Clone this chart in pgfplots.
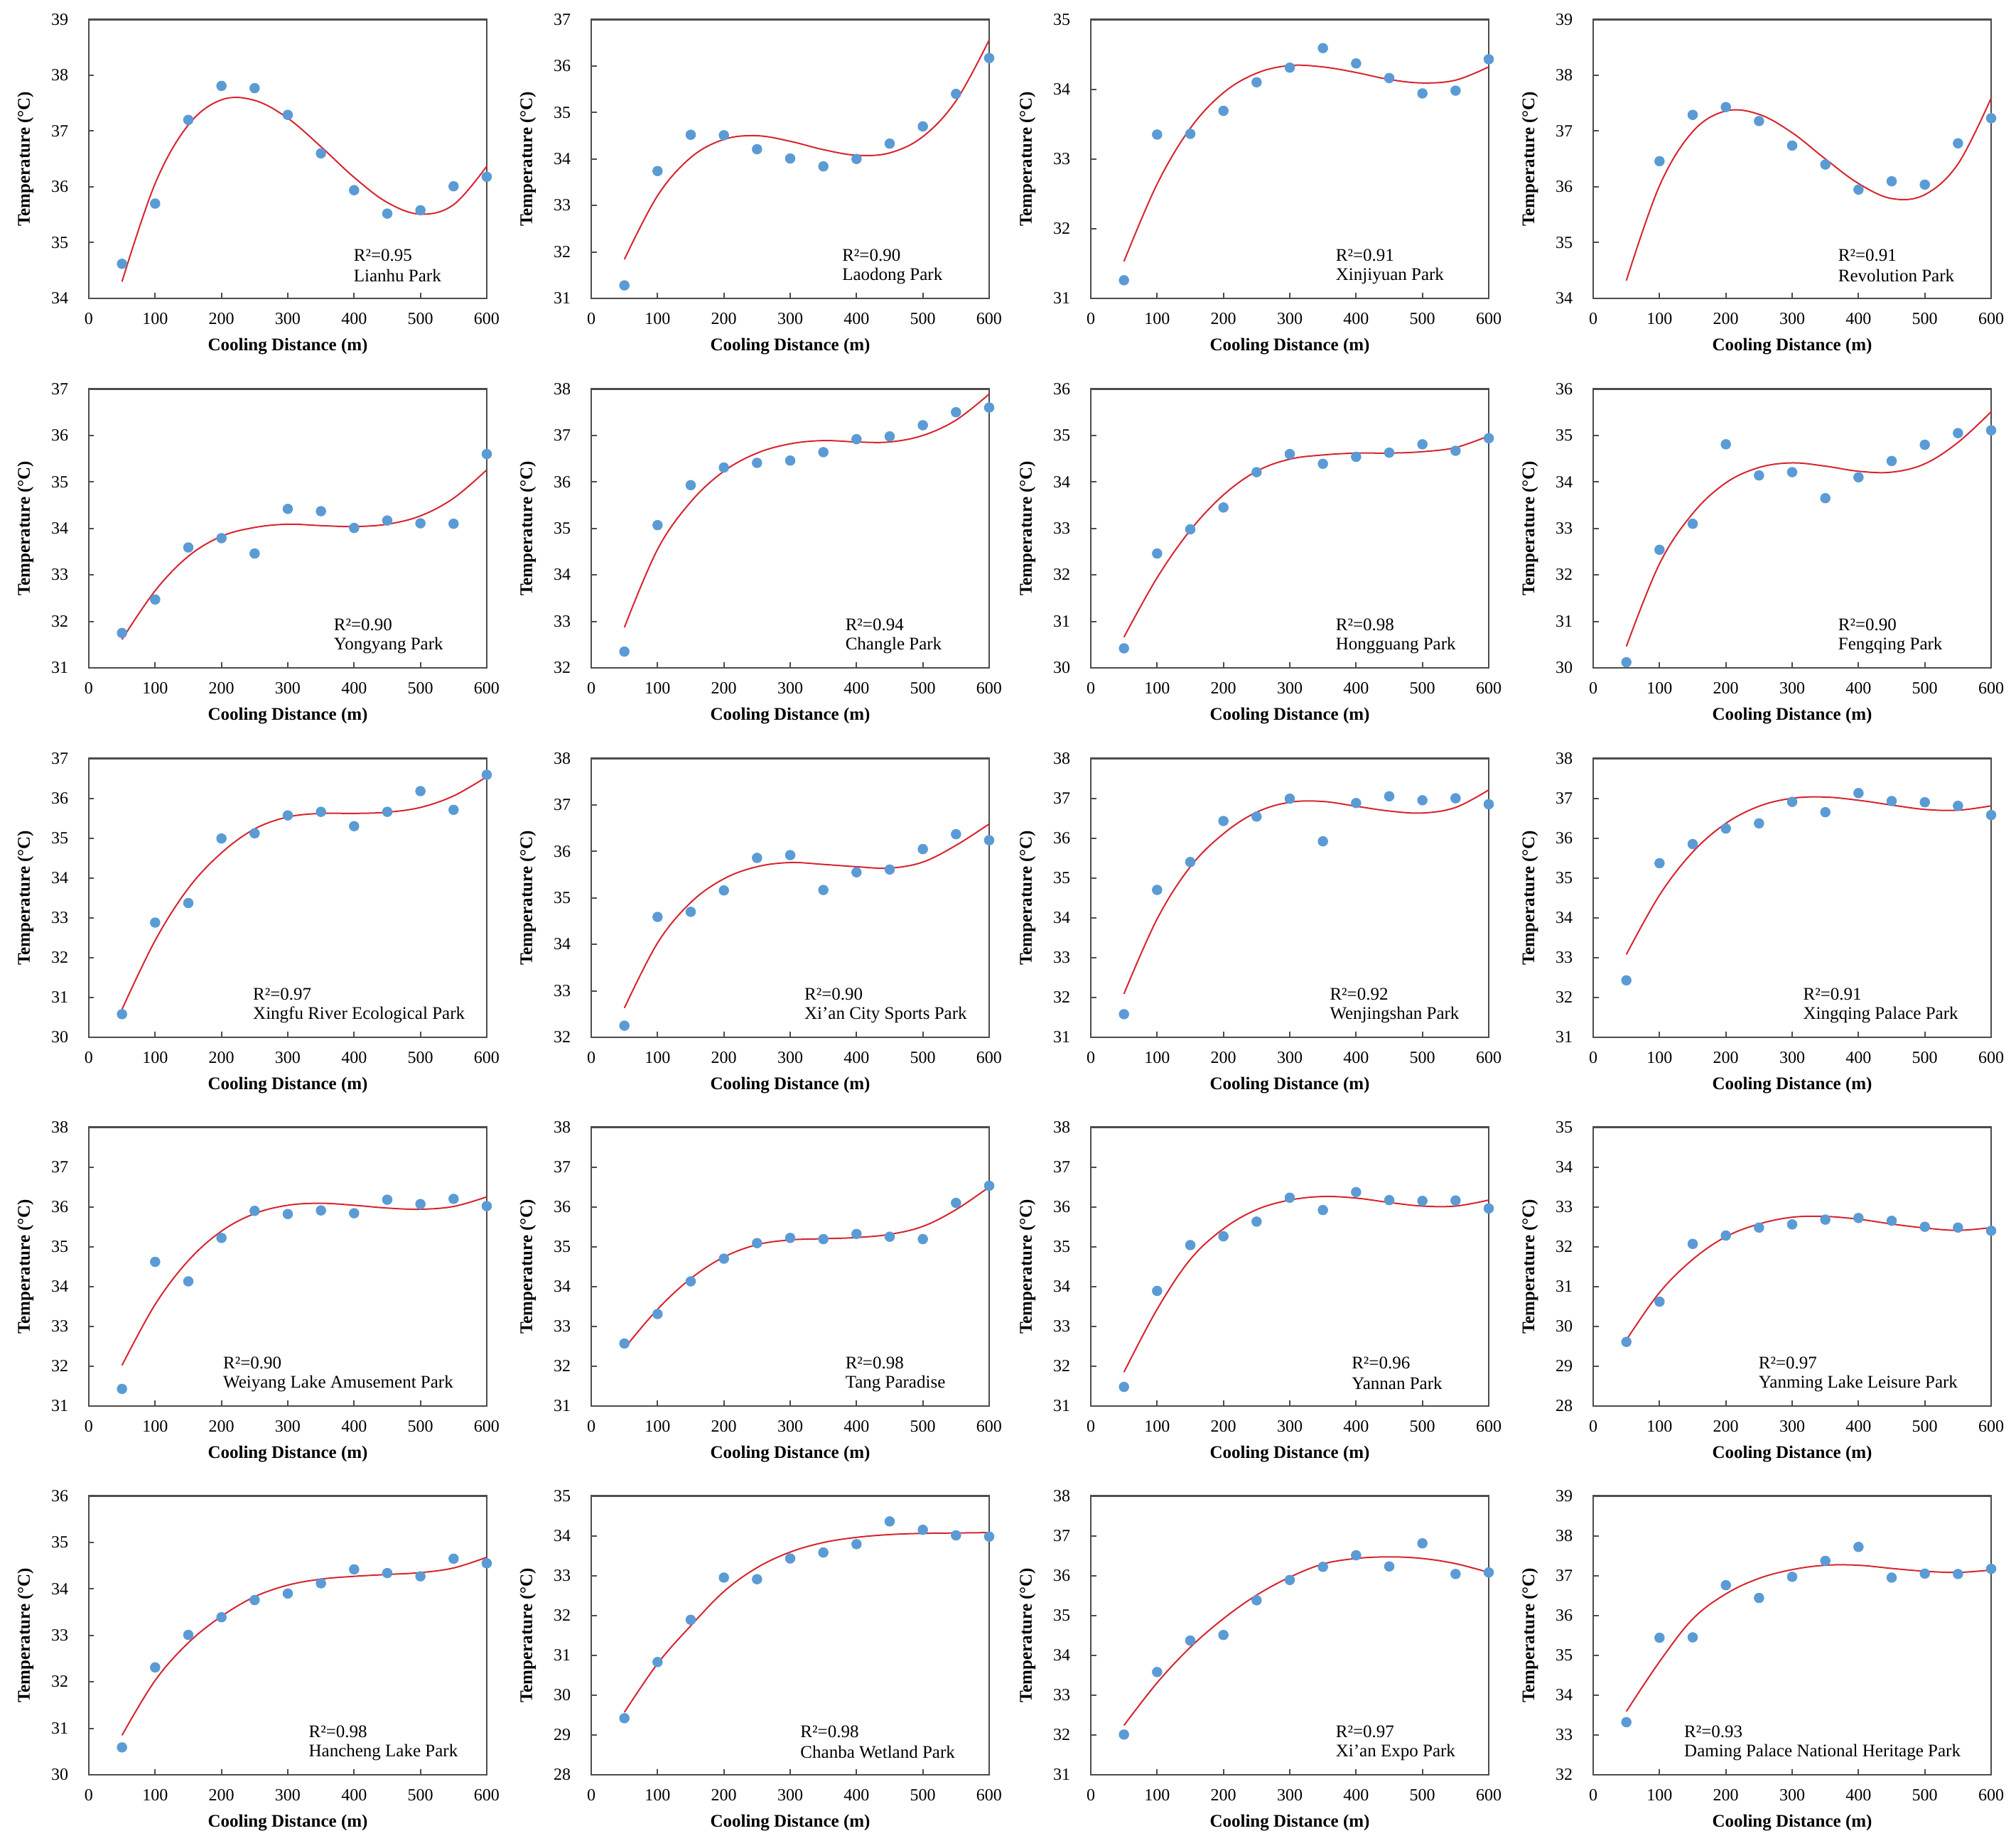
\documentclass[border=0pt]{standalone}
\usepackage{fontspec}
\setmainfont{Liberation Serif}
\usepackage{pgfplots}
\pgfplotsset{compat=1.18}
\definecolor{ptblue}{RGB}{91,155,213}
\definecolor{fitred}{RGB}{214,38,48}
\newcommand{\tickfont}{\fontsize{9.6pt}{11pt}\selectfont}
\newcommand{\labfont}{\fontsize{10pt}{12pt}\selectfont\bfseries}
\newcommand{\annfont}{\fontsize{10pt}{12pt}\selectfont}
\newcommand{\ann}[3]{%
  \node[anchor=west,inner sep=0pt,font=\annfont] at (axis description cs:#1,0.155) {#2};
  \node[anchor=west,inner sep=0pt,font=\annfont] at (axis description cs:#1,0.081) {#3};}
\pgfplotsset{
  panel/.style={
    scale only axis, width=224pt, height=157pt,
    anchor=south west,
    xmin=0, xmax=600, xtick={0,100,200,300,400,500,600},
    ytick distance=1,
    xtick pos=bottom, ytick pos=left,
    tick align=inside, major tick length=3pt,
    axis line style={draw=black!70, line width=0.9pt},
    tick style={black!70, line width=0.8pt},
    xticklabel style={font=\tickfont, yshift=-4.5pt},
    yticklabel style={font=\tickfont, xshift=-8pt},
    xlabel={Cooling Distance (m)}, ylabel={Temperature (°C)},
    xlabel style={font=\labfont, at={(axis description cs:0.5,-0.173)}, anchor=center},
    ylabel style={font=\labfont, at={(axis description cs:-0.159,0.5)}, anchor=center},
    /pgf/number format/assume math mode=true,
    clip=false,
  },
  pts/.style={only marks, mark=*, mark size=2.7pt, color=ptblue},
  fit/.style={smooth, tension=0.6, no marks, color=fitred, line width=0.8pt},
}
\begin{document}
\begin{tikzpicture}
\path[use as bounding box] (0,0) rectangle (1134.8pt,1037.6pt);
% ---------------- Row 1 ----------------
\begin{axis}[panel, at={(50pt,869.6pt)}, ymin=34, ymax=39]
\addplot[pts] coordinates {(50,34.62)(100,35.70)(150,37.20)(200,37.81)(250,37.77)(300,37.29)(350,36.60)(400,35.94)(450,35.52)(500,35.58)(550,36.01)(600,36.18)};
\addplot[fit] coordinates {(50,34.30)(100,36.06)(150,37.11)(200,37.56)(250,37.55)(300,37.23)(350,36.72)(400,36.17)(450,35.72)(500,35.51)(550,35.68)(600,36.37)};
\ann{0.665}{R²=0.95}{Lianhu Park}
\end{axis}
\begin{axis}[panel, at={(332.8pt,869.6pt)}, ymin=31, ymax=37]
\addplot[pts] coordinates {(50,31.28)(100,33.74)(150,34.52)(200,34.51)(250,34.21)(300,34.01)(350,33.84)(400,34.00)(450,34.33)(500,34.70)(550,35.40)(600,36.17)};
\addplot[fit] coordinates {(50,31.84)(100,33.21)(150,34.03)(200,34.42)(250,34.50)(300,34.38)(350,34.20)(400,34.08)(450,34.13)(500,34.48)(550,35.25)(600,36.56)};
\ann{0.63}{R²=0.90}{Laodong Park}
\end{axis}
\begin{axis}[panel, at={(614pt,869.6pt)}, ymin=31, ymax=35]
\addplot[pts] coordinates {(50,31.26)(100,33.35)(150,33.36)(200,33.69)(250,34.10)(300,34.31)(350,34.59)(400,34.37)(450,34.16)(500,33.94)(550,33.98)(600,34.43)};
\addplot[fit] coordinates {(50,31.53)(100,32.64)(150,33.44)(200,33.95)(250,34.23)(300,34.34)(350,34.32)(400,34.24)(450,34.14)(500,34.09)(550,34.13)(600,34.32)};
\ann{0.615}{R²=0.91}{Xinjiyuan Park}
\end{axis}
\begin{axis}[panel, at={(896.8pt,869.6pt)}, ymin=34, ymax=39]
\addplot[pts] coordinates {(100,36.46)(150,37.29)(200,37.43)(250,37.18)(300,36.74)(350,36.40)(400,35.95)(450,36.10)(500,36.04)(550,36.78)(600,37.23)};
\addplot[fit] coordinates {(50,34.32)(100,36.02)(150,36.99)(200,37.36)(250,37.30)(300,36.97)(350,36.50)(400,36.06)(450,35.79)(500,35.86)(550,36.41)(600,37.59)};
\ann{0.615}{R²=0.91}{Revolution Park}
\end{axis}
% ---------------- Row 2 ----------------
\begin{axis}[panel, at={(50pt,661.6pt)}, ymin=31, ymax=37]
\addplot[pts] coordinates {(50,31.75)(100,32.47)(150,33.59)(200,33.79)(250,33.46)(300,34.42)(350,34.37)(400,34.01)(450,34.17)(500,34.11)(550,34.10)(600,35.60)};
\addplot[fit] coordinates {(50,31.61)(100,32.66)(150,33.40)(200,33.83)(250,34.02)(300,34.09)(350,34.06)(400,34.04)(450,34.09)(500,34.27)(550,34.65)(600,35.26)};
\ann{0.615}{R²=0.90}{Yongyang Park}
\end{axis}
\begin{axis}[panel, at={(332.8pt,661.6pt)}, ymin=32, ymax=38]
\addplot[pts] coordinates {(50,32.35)(100,35.07)(150,35.93)(200,36.31)(250,36.41)(300,36.46)(350,36.64)(400,36.92)(450,36.98)(500,37.22)(550,37.50)(600,37.60)};
\addplot[fit] coordinates {(50,32.87)(100,34.55)(150,35.57)(200,36.23)(250,36.62)(300,36.82)(350,36.89)(400,36.86)(450,36.86)(500,37.00)(550,37.33)(600,37.89)};
\ann{0.638}{R²=0.94}{Changle Park}
\end{axis}
\begin{axis}[panel, at={(614pt,661.6pt)}, ymin=30, ymax=36]
\addplot[pts] coordinates {(50,30.42)(100,32.46)(150,32.98)(200,33.45)(250,34.21)(300,34.60)(350,34.39)(400,34.54)(450,34.63)(500,34.81)(550,34.67)(600,34.94)};
\addplot[fit] coordinates {(50,30.66)(100,31.94)(150,32.96)(200,33.72)(250,34.23)(300,34.49)(350,34.58)(400,34.62)(450,34.62)(500,34.65)(550,34.74)(600,34.99)};
\ann{0.615}{R²=0.98}{Hongguang Park}
\end{axis}
\begin{axis}[panel, at={(896.8pt,661.6pt)}, ymin=30, ymax=36]
\addplot[pts] coordinates {(50,30.12)(100,32.54)(150,33.10)(200,34.81)(250,34.14)(300,34.21)(350,33.65)(400,34.10)(450,34.45)(500,34.80)(550,35.05)(600,35.11)};
\addplot[fit] coordinates {(50,30.46)(100,32.24)(150,33.32)(200,33.98)(250,34.31)(300,34.41)(350,34.34)(400,34.23)(450,34.21)(500,34.39)(550,34.85)(600,35.51)};
\ann{0.615}{R²=0.90}{Fengqing Park}
\end{axis}
% ---------------- Row 3 ----------------
\begin{axis}[panel, at={(50pt,453.6pt)}, ymin=30, ymax=37]
\addplot[pts] coordinates {(50,30.58)(100,32.88)(150,33.37)(200,34.99)(250,35.12)(300,35.57)(350,35.66)(400,35.30)(450,35.66)(500,36.18)(550,35.71)(600,36.59)};
\addplot[fit] coordinates {(50,30.70)(100,32.43)(150,33.74)(200,34.63)(250,35.23)(300,35.53)(350,35.62)(400,35.62)(450,35.65)(500,35.77)(550,36.06)(600,36.54)};
\ann{0.412}{R²=0.97}{Xingfu River Ecological Park}
\end{axis}
\begin{axis}[panel, at={(332.8pt,453.6pt)}, ymin=32, ymax=38]
\addplot[pts] coordinates {(50,32.25)(100,34.59)(150,34.70)(200,35.16)(250,35.86)(300,35.92)(350,35.17)(400,35.55)(450,35.61)(500,36.05)(550,36.37)(600,36.24)};
\addplot[fit] coordinates {(50,32.63)(100,34.03)(150,34.90)(200,35.41)(250,35.67)(300,35.76)(350,35.72)(400,35.67)(450,35.64)(500,35.77)(550,36.13)(600,36.59)};
\ann{0.535}{R²=0.90}{Xi'an City Sports Park}
\end{axis}
\begin{axis}[panel, at={(614pt,453.6pt)}, ymin=31, ymax=38]
\addplot[pts] coordinates {(50,31.58)(100,34.70)(150,35.40)(200,36.43)(250,36.54)(300,36.99)(350,35.92)(400,36.88)(450,37.05)(500,36.95)(550,37.00)(600,36.85)};
\addplot[fit] coordinates {(50,32.09)(100,33.97)(150,35.28)(200,36.11)(250,36.65)(300,36.90)(350,36.92)(400,36.80)(450,36.68)(500,36.63)(550,36.77)(600,37.21)};
\ann{0.60}{R²=0.92}{Wenjingshan Park}
\end{axis}
\begin{axis}[panel, at={(896.8pt,453.6pt)}, ymin=31, ymax=38]
\addplot[pts] coordinates {(50,32.43)(100,35.37)(150,35.85)(200,36.24)(250,36.37)(300,36.91)(350,36.65)(400,37.13)(450,36.93)(500,36.90)(550,36.81)(600,36.58)};
\addplot[fit] coordinates {(50,33.08)(100,34.57)(150,35.65)(200,36.37)(250,36.80)(300,37.00)(350,37.03)(400,36.95)(450,36.83)(500,36.72)(550,36.70)(600,36.81)};
\ann{0.527}{R²=0.91}{Xingqing Palace Park}
\end{axis}
% ---------------- Row 4 ----------------
\begin{axis}[panel, at={(50pt,246pt)}, ymin=31, ymax=38]
\addplot[pts] coordinates {(50,31.43)(100,34.62)(150,34.13)(200,35.22)(250,35.90)(300,35.82)(350,35.91)(400,35.84)(450,36.18)(500,36.07)(550,36.20)(600,36.02)};
\addplot[fit] coordinates {(50,32.02)(100,33.55)(150,34.65)(200,35.39)(250,35.83)(300,36.04)(350,36.09)(400,36.04)(450,35.97)(500,35.94)(550,36.01)(600,36.25)};
\ann{0.337}{R²=0.90}{Weiyang Lake Amusement Park}
\end{axis}
\begin{axis}[panel, at={(332.8pt,246pt)}, ymin=31, ymax=38]
\addplot[pts] coordinates {(50,32.57)(100,33.31)(150,34.13)(200,34.70)(250,35.09)(300,35.22)(350,35.19)(400,35.32)(450,35.25)(500,35.19)(550,36.10)(600,36.53)};
\addplot[fit] coordinates {(50,32.45)(100,33.43)(150,34.20)(200,34.74)(250,35.05)(300,35.17)(350,35.20)(400,35.23)(450,35.31)(500,35.51)(550,35.93)(600,36.50)};
\ann{0.638}{R²=0.98}{Tang Paradise}
\end{axis}
\begin{axis}[panel, at={(614pt,246pt)}, ymin=31, ymax=38]
\addplot[pts] coordinates {(50,31.48)(100,33.89)(150,35.04)(200,35.26)(250,35.63)(300,36.23)(350,35.92)(400,36.37)(450,36.17)(500,36.15)(550,36.16)(600,35.96)};
\addplot[fit] coordinates {(50,31.85)(100,33.43)(150,34.68)(200,35.45)(250,35.93)(300,36.17)(350,36.26)(400,36.22)(450,36.11)(500,36.02)(550,36.02)(600,36.17)};
\ann{0.655}{R²=0.96}{Yannan Park}
\end{axis}
\begin{axis}[panel, at={(896.8pt,246pt)}, ymin=28, ymax=35]
\addplot[pts] coordinates {(50,29.61)(100,30.62)(150,32.07)(200,32.28)(250,32.48)(300,32.56)(350,32.68)(400,32.72)(450,32.65)(500,32.50)(550,32.48)(600,32.40)};
\addplot[fit] coordinates {(50,29.66)(100,30.85)(150,31.68)(200,32.25)(250,32.57)(300,32.74)(350,32.76)(400,32.69)(450,32.57)(500,32.47)(550,32.41)(600,32.48)};
\ann{0.415}{R²=0.97}{Yanming Lake Leisure Park}
\end{axis}
% ---------------- Row 5 ----------------
\begin{axis}[panel, at={(50pt,38.4pt)}, ymin=30, ymax=36]
\addplot[pts] coordinates {(50,30.59)(100,32.31)(150,33.01)(200,33.39)(250,33.76)(300,33.90)(350,34.12)(400,34.42)(450,34.34)(500,34.27)(550,34.65)(600,34.55)};
\addplot[fit] coordinates {(50,30.85)(100,32.03)(150,32.84)(200,33.41)(250,33.83)(300,34.08)(350,34.21)(400,34.27)(450,34.31)(500,34.35)(550,34.45)(600,34.68)};
\ann{0.552}{R²=0.98}{Hancheng Lake Park}
\end{axis}
\begin{axis}[panel, at={(332.8pt,38.4pt)}, ymin=28, ymax=35]
\addplot[pts] coordinates {(50,29.42)(100,30.83)(150,31.89)(200,32.95)(250,32.91)(300,33.43)(350,33.58)(400,33.79)(450,34.36)(500,34.15)(550,34.01)(600,33.98)};
\addplot[fit] coordinates {(50,29.57)(100,30.79)(150,31.74)(200,32.60)(250,33.20)(300,33.59)(350,33.83)(400,33.96)(450,34.03)(500,34.06)(550,34.07)(600,34.08)};
\ann{0.525}{R²=0.98}{Chanba Wetland Park}
\end{axis}
\begin{axis}[panel, at={(614pt,38.4pt)}, ymin=31, ymax=38]
\addplot[pts] coordinates {(50,32.01)(100,33.58)(150,34.37)(200,34.51)(250,35.38)(300,35.89)(350,36.22)(400,36.51)(450,36.23)(500,36.81)(550,36.04)(600,36.08)};
\addplot[fit] coordinates {(50,32.24)(100,33.31)(150,34.20)(200,34.92)(250,35.51)(300,35.96)(350,36.29)(400,36.43)(450,36.47)(500,36.43)(550,36.30)(600,36.08)};
\ann{0.615}{R²=0.97}{Xi'an Expo Park}
\end{axis}
\begin{axis}[panel, at={(896.8pt,38.4pt)}, ymin=32, ymax=39]
\addplot[pts] coordinates {(50,33.32)(100,35.44)(150,35.45)(200,36.76)(250,36.44)(300,36.97)(350,37.37)(400,37.72)(450,36.95)(500,37.05)(550,37.04)(600,37.17)};
\addplot[fit] coordinates {(50,33.59)(100,34.84)(150,35.91)(200,36.54)(250,36.93)(300,37.15)(350,37.26)(400,37.26)(450,37.18)(500,37.11)(550,37.08)(600,37.14)};
\ann{0.228}{R²=0.93}{Daming Palace National Heritage Park}
\end{axis}
\end{tikzpicture}
\end{document}
